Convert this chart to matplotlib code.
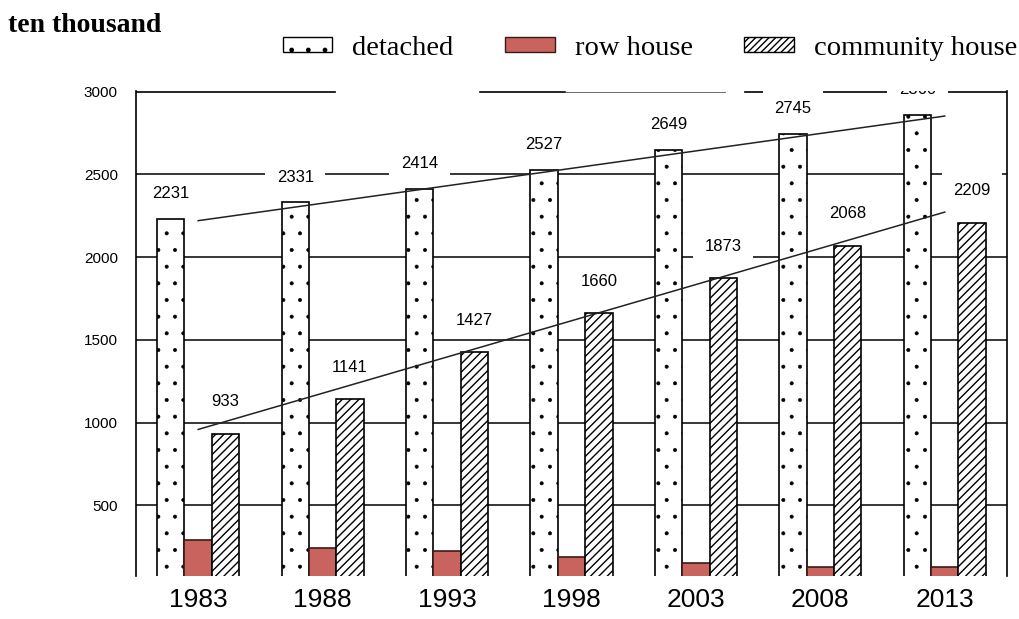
import numpy as np
import matplotlib as mpl
import matplotlib.pyplot as plt
from matplotlib.patches import Patch

# data (unit: ten thousand)
years = ['1983', '1988', '1993', '1998', '2003', '2008', '2013']
detached = [2231, 2331, 2414, 2527, 2649, 2745, 2860]
row_house = [292, 245, 225, 187, 155, 127, 127]
community = [933, 1141, 1427, 1660, 1873, 2068, 2209]
y_ticks = [500, 1000, 1500, 2000, 2500, 3000]
series_names = ['detached', 'row house', 'community house']

red = '#c9635e'
red_edge = '#3a1a18'

plt.rcParams['font.family'] = ['Liberation Sans', 'DejaVu Sans']

fig = plt.figure(figsize=(10.2, 6.19), dpi=100)
ax = fig.add_axes([0.1333, 0.0695, 0.8539, 0.7840])

x = np.arange(len(years))
w = 0.22

# thin hatch lines give smaller dots
with mpl.rc_context({'hatch.linewidth': 0.4}):
    ax.bar(x - w, detached, w, color='white', edgecolor='black', hatch='.', lw=1.2, zorder=2)
ax.bar(x, row_house, w, color=red, edgecolor=red_edge, lw=1.2, zorder=2)
with mpl.rc_context({'hatch.linewidth': 1.0}):
    ax.bar(x + w, community, w, color='white', edgecolor='black', hatch='////', lw=1.2, zorder=2)

# linear trend lines over the two big series
ends = x[[0, -1]]
for vals in (detached, community):
    k, b = np.polyfit(x, vals, 1)
    ax.plot(ends, k * ends + b, color='#222222', lw=1.1, zorder=3)

# value labels, white boxes knock out the grid behind them
box = dict(boxstyle='square,pad=0.7', fc='white', ec='none')
for xi, v in zip(x, detached):
    ax.annotate(str(v), (xi - w, v), xytext=(0, 18), textcoords='offset points',
                ha='center', va='center', fontsize=12, zorder=1, bbox=box, clip_on=True)
for xi, v in zip(x, community):
    ax.annotate(str(v), (xi + w, v), xytext=(0, 23), textcoords='offset points',
                ha='center', va='center', fontsize=12, zorder=1, bbox=box, clip_on=True)

# grid lines and the broken top frame line
for y in y_ticks[:-1]:
    ax.axhline(y, color='black', lw=1.1, zorder=0.5)
for x0, x1, lw, c in [(0, 0.2285, 1.2, 'black'), (0.395, 0.4925, 1.2, 'black'),
                      (0.4925, 0.676, 0.6, '#555555'), (0.699, 1, 1.2, 'black')]:
    ax.axhline(y_ticks[-1], x0, x1, color=c, lw=lw, zorder=0.6)

ax.set_xlim(-0.5, len(years) - 0.5)
ax.set_ylim(74, 3006)
ax.set_xticks(x)
ax.set_xticklabels(years)
ax.set_yticks(y_ticks)
ax.tick_params(axis='x', length=0, pad=9, labelsize=19)
ax.tick_params(axis='y', length=0, pad=13, labelsize=11)

ax.spines['top'].set_visible(False)
ax.spines['bottom'].set_visible(False)
for s in ('left', 'right'):
    ax.spines[s].set_linewidth(1.2)

with mpl.rc_context({'hatch.linewidth': 0.4}):
    h_det = Patch(fc='white', ec='black', hatch='.', lw=1)
h_row = Patch(fc=red, ec=red_edge, lw=1)
with mpl.rc_context({'hatch.linewidth': 1.0}):
    h_com = Patch(fc='white', ec='black', hatch='/////', lw=1)
fig.legend([h_det, h_row, h_com], series_names, loc='center right', bbox_to_anchor=(0.997, 0.922),
           ncol=3, frameon=False, prop={'family': ['Liberation Serif', 'DejaVu Serif'], 'size': 20.5},
           handlelength=1.75, handleheight=0.45, handletextpad=0.7, columnspacing=1.8,
           borderpad=0, borderaxespad=0)

fig.text(0.008, 0.958, 'ten thousand', family=['Liberation Serif', 'DejaVu Serif'],
         weight='bold', fontsize=20, va='center')

fig.savefig('out.png', dpi=100)
